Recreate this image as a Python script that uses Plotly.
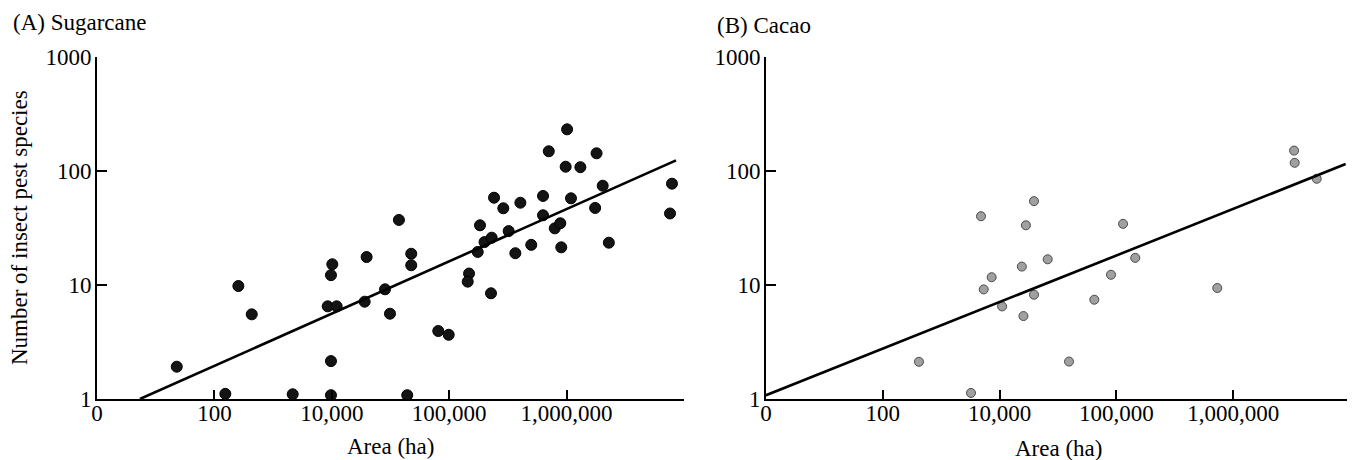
import plotly.graph_objects as go

# ---------------- data ----------------
# Panel A: Sugarcane (area in ha, number of insect pest species)
sugar_area = [478, 1239, 1600, 2080, 4645, 9230, 11000, 9840, 10100, 9840, 9840,
              19050, 19800, 28400, 31300, 37300, 47500, 47500, 43900, 80700, 99000,
              147600, 143800, 227000, 175000, 183000, 200000, 230000, 241000, 289000,
              321000, 366000, 404000, 500000, 630000, 630000, 705000, 793000, 884000,
              901000, 982000, 1010000, 1090000, 1310000, 1750000, 1800000, 2030000,
              2290000, 7600000, 7900000]
sugar_species = [1.92, 1.11, 9.8, 5.53, 1.1, 6.5, 6.5, 12.2, 15.2, 2.15, 1.08,
                 7.14, 17.6, 9.17, 5.6, 37.2, 18.8, 14.9, 1.08, 3.95, 3.66,
                 12.6, 10.7, 8.46, 19.5, 33.4, 23.8, 26.0, 58.3, 47.1,
                 29.7, 19.0, 52.7, 22.5, 60.4, 40.9, 149, 31.4, 34.8,
                 21.4, 109, 232, 57.6, 108, 47.4, 143, 74.3,
                 23.5, 42.4, 77.4]
sugar_fit_area = [232, 8550000]
sugar_fit_species = [1.0, 124]

# Panel B: Cacao
cacao_area = [2040, 5690, 6930, 7310, 8550, 10500, 15500, 16000, 16800, 19700, 19700,
              25800, 39300, 64700, 89900, 145000, 731000, 114000, 3320000, 3360000, 5190000]
cacao_species = [2.12, 1.13, 40.1, 9.15, 11.7, 6.49, 14.5, 5.34, 33.4, 8.22, 54.4,
                 16.8, 2.13, 7.43, 12.3, 17.3, 9.41, 34.4, 151, 118, 85.5]
cacao_fit_area = [100, 9180000]
cacao_fit_species = [1.08, 115]

# axis ticks
x_tickvals = [100, 1000, 10000, 100000, 1000000, 10000000]
x_ticktext = ["0", "100", "10,000", "100,000", "1,000,000", ""]
y_tickvals = [1, 10, 100, 1000]
y_ticktext = ["1", "10", "100", "1000"]

panel_titles = ["(A) Sugarcane", "(B) Cacao"]
x_title = "Area (ha)"
y_title = "Number of insect pest species"

# ---------------- figure ----------------
# page body has an 8px default margin: lay out in window pixels minus 8
OFF = 8
W, H = 1355 - OFF, 460 - OFF
FONT = "Liberation Serif"


def px(v):
    return (v - OFF) / W


def py(v):
    return 1 - (v - OFF) / H


fig = go.Figure()

fig.add_trace(go.Scatter(
    x=sugar_area, y=sugar_species, mode="markers",
    marker=dict(size=11, color="#141414", line=dict(color="#000000", width=1)),
    xaxis="x", yaxis="y", showlegend=False))
fig.add_trace(go.Scatter(
    x=sugar_fit_area, y=sugar_fit_species, mode="lines",
    line=dict(color="#000000", width=2.6),
    xaxis="x", yaxis="y", showlegend=False))

fig.add_trace(go.Scatter(
    x=cacao_area, y=cacao_species, mode="markers",
    marker=dict(size=9, color="#a0a0a0", line=dict(color="#4a4a4a", width=1)),
    xaxis="x2", yaxis="y2", showlegend=False))
fig.add_trace(go.Scatter(
    x=cacao_fit_area, y=cacao_fit_species, mode="lines",
    line=dict(color="#000000", width=2.6),
    xaxis="x2", yaxis="y2", showlegend=False))


def xaxis(domain, anchor):
    return dict(
        type="log", range=[2, 7], domain=domain, anchor=anchor,
        tickvals=x_tickvals, ticktext=x_ticktext,
        ticks="inside", ticklen=9, tickwidth=2, tickcolor="#000",
        showline=True, linecolor="#000", linewidth=2,
        showgrid=False, zeroline=False, automargin=False,
        tickfont=dict(family=FONT, size=23, color="#000"),
        ticklabelstandoff=-8,
    )


def yaxis(domain, anchor):
    return dict(
        type="log", range=[0, 3], domain=domain, anchor=anchor,
        tickvals=y_tickvals, ticktext=y_ticktext,
        ticks="inside", ticklen=10, tickwidth=2, tickcolor="#000",
        showline=True, linecolor="#000", linewidth=2,
        showgrid=False, zeroline=False, automargin=False,
        tickfont=dict(family=FONT, size=23, color="#000"),
        ticklabelstandoff=-1,
    )


ydom = [py(399), py(57)]
fig.update_layout(
    width=W, height=H,
    margin=dict(l=0, r=0, t=0, b=0),
    paper_bgcolor="white", plot_bgcolor="white",
    font=dict(family=FONT, color="#000"),
    xaxis=xaxis([px(97), px(684)], "y"),
    yaxis=yaxis(ydom, "x"),
    xaxis2=xaxis([px(766), px(1350)], "y2"),
    yaxis2=yaxis(ydom, "x2"),
)

ann_font = dict(family=FONT, size=23, color="#000")
annotations = [
    dict(text=panel_titles[0], x=px(11), y=py(22), xanchor="left", yanchor="middle"),
    dict(text=panel_titles[1], x=px(715), y=py(25), xanchor="left", yanchor="middle"),
    dict(text=x_title, x=px(390), y=py(446), xanchor="center", yanchor="middle"),
    dict(text=x_title, x=px(1058), y=py(448), xanchor="center", yanchor="middle"),
    dict(text=y_title, x=px(19), y=py(228), xanchor="center", yanchor="middle", textangle=-90),
]
for a in annotations:
    a.update(xref="paper", yref="paper", showarrow=False, font=ann_font)
fig.update_layout(annotations=annotations)

fig.write_html("out.html")
